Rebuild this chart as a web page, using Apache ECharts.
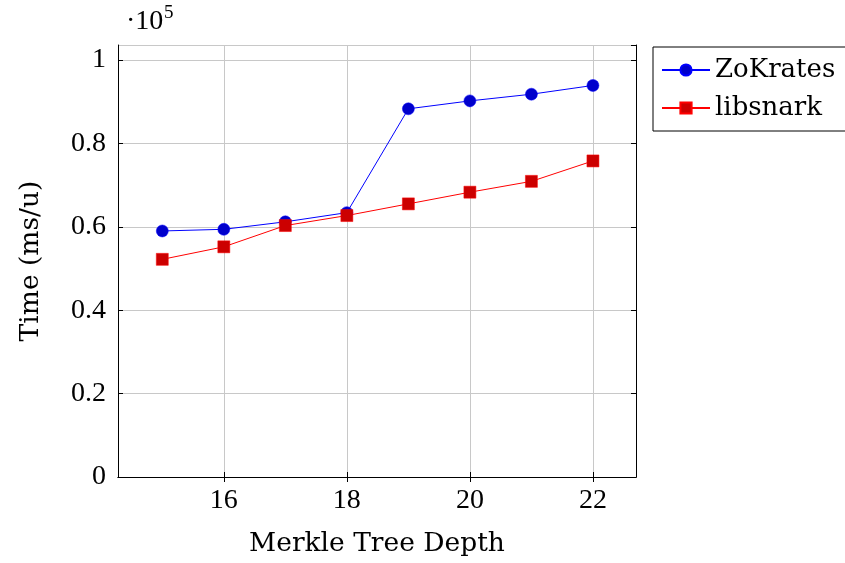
<!DOCTYPE html>
<html lang="en">
<head>
    <meta charset="UTF-8">
    <title>Merkle Tree Depth</title>
    <script src="https://cdn.jsdelivr.net/npm/echarts@6/dist/echarts.min.js"></script>
    <style>
        html, body { margin: 0; padding: 0; background: #fff; }
        #main { width: 845px; height: 563px; }
    </style>
</head>
<body>
    <div id="main"></div>
    <script>
    // data
    var depths = [15, 16, 17, 18, 19, 20, 21, 22];
    var zokrates = [59000, 59400, 61200, 63400, 88300, 90200, 91800, 93900];
    var libsnark = [52200, 55200, 60300, 62700, 65500, 68300, 70900, 75800];
    var xTicks = [16, 18, 20, 22];

    var numFont = 'Liberation Serif';
    var textFont = 'DejaVu Serif';
    var myChart = echarts.init(document.getElementById('main'));

    function pairs(vals) {
        return depths.map(function (d, i) { return [d, vals[i]]; });
    }

    var option = {
        animation: false,
        textStyle: { fontFamily: numFont },
        grid: { left: 118, top: 45, right: 209, bottom: 86 },
        graphic: [{
            type: 'text', left: 126, top: 8,
            style: { text: '·10', font: '28px ' + numFont, fill: '#000' }
        }, {
            type: 'text', left: 164, top: 4,
            style: { text: '5', font: '19px ' + numFont, fill: '#000' }
        }],
        legend: {
            orient: 'vertical',
            left: 653, top: 47,
            padding: [10, 14, 10, 8],
            itemGap: 12,
            itemWidth: 48, itemHeight: 14,
            borderColor: '#000', borderWidth: 1,
            textStyle: { fontFamily: textFont, fontSize: 26, color: '#000' },
            data: ['ZoKrates', 'libsnark']
        },
        xAxis: [{
            type: 'value', min: 14.28, max: 22.7,
            name: 'Merkle Tree Depth', nameLocation: 'middle', nameGap: 54,
            nameTextStyle: { fontFamily: textFont, fontSize: 26.5, color: '#000' },
            axisLine: { lineStyle: { color: '#000', width: 1 } },
            axisTick: { inside: true, length: 5, customValues: xTicks, lineStyle: { color: '#000' } },
            axisLabel: { customValues: xTicks, fontSize: 28, color: '#000', margin: 10 },
            splitLine: { show: true, lineStyle: { color: '#c8c8c8', width: 1 } }
        }, {
            type: 'value', min: 14.28, max: 22.7, position: 'top',
            axisLine: { show: true, lineStyle: { color: '#000' } },
            axisTick: { inside: true, length: 5, customValues: xTicks, lineStyle: { color: '#000' } },
            axisLabel: { show: false },
            splitLine: { show: false }
        }],
        yAxis: [{
            type: 'value', min: 0, max: 103600, interval: 20000,
            name: 'Time (ms/u)', nameLocation: 'middle', nameGap: 73, nameRotate: 90,
            nameTextStyle: { fontFamily: textFont, fontSize: 26.5, color: '#000' },
            axisLine: { show: true, lineStyle: { color: '#000' } },
            axisTick: { show: true, inside: true, length: 5, lineStyle: { color: '#000' } },
            axisLabel: {
                fontSize: 28, color: '#000', margin: 12, showMaxLabel: false,
                formatter: function (v) { return String(+(v / 100000).toFixed(1)); }
            },
            splitLine: { show: true, lineStyle: { color: '#c8c8c8', width: 1 } }
        }, {
            type: 'value', min: 0, max: 103600, interval: 20000, position: 'right',
            axisLine: { show: true, lineStyle: { color: '#000' } },
            axisTick: { show: true, inside: true, length: 5, lineStyle: { color: '#000' } },
            axisLabel: { show: false },
            splitLine: { show: false }
        }],
        series: [{
            name: 'ZoKrates', type: 'line',
            data: pairs(zokrates),
            symbol: 'circle', symbolSize: 12,
            lineStyle: { color: '#0000ff', width: 1 },
            itemStyle: { color: '#0000cc', borderColor: '#0000ff', borderWidth: 0.5 }
        }, {
            name: 'libsnark', type: 'line',
            data: pairs(libsnark),
            symbol: 'rect', symbolSize: 12,
            lineStyle: { color: '#ff0000', width: 1 },
            itemStyle: { color: '#cc0000', borderColor: '#ff0000', borderWidth: 0.5 }
        }]
    };

    myChart.setOption(option);
    </script>
</body>
</html>
